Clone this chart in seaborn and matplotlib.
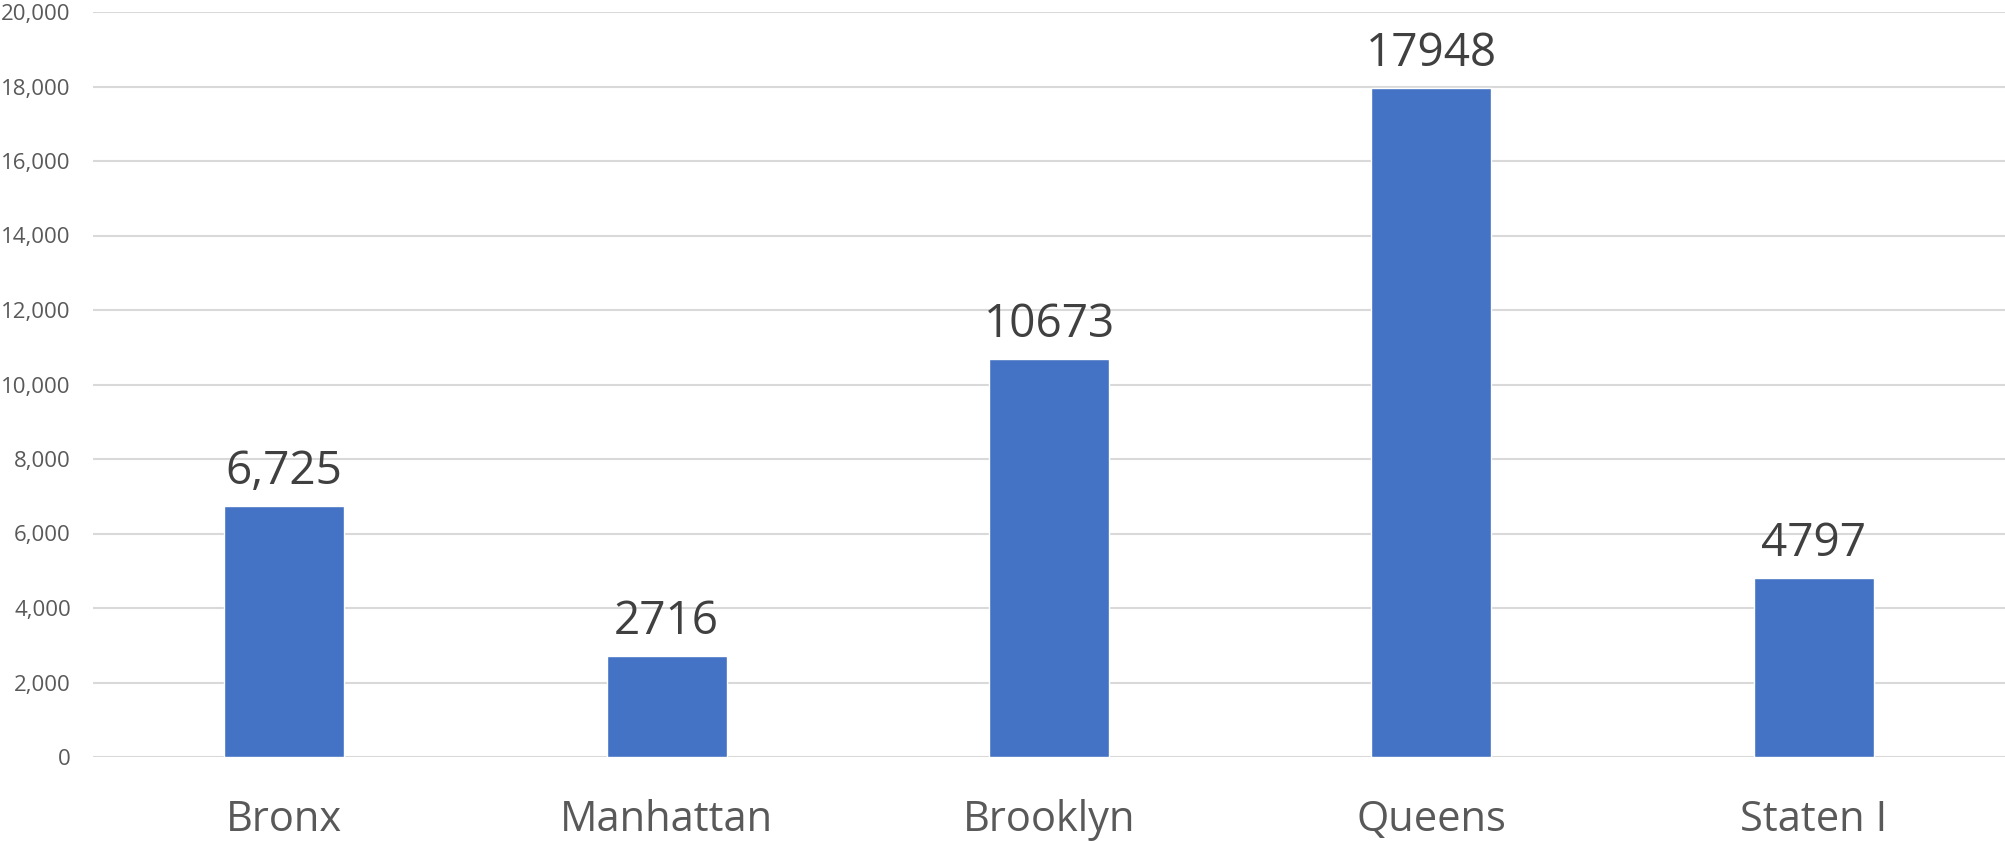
import matplotlib
matplotlib.use("Agg")
import matplotlib.pyplot as plt
import seaborn as sns
import pandas as pd
from matplotlib.ticker import FuncFormatter

# values
boroughs = ["Bronx", "Manhattan", "Brooklyn", "Queens", "Staten I"]
counts = [6725, 2716, 10673, 17948, 4797]
bar_labels = ["6,725", "2716", "10673", "17948", "4797"]

df = pd.DataFrame({"borough": boroughs, "count": counts})

sns.set_theme(style="white")
plt.rcParams["font.family"] = ["Open Sans", "DejaVu Sans"]

fig = plt.figure(figsize=(20.05, 8.41), dpi=100)
ax = fig.add_axes([93 / 2005, 84 / 841, 1 - 93 / 2005, 745 / 841])

sns.barplot(data=df, x="borough", y="count", color="#4472C4",
            width=0.314, saturation=1, ax=ax)

ax.set_ylim(0, 20000)
ax.set_xlim(-0.5, 4.5)
ax.set_yticks(range(0, 20001, 2000))
ax.yaxis.set_major_formatter(FuncFormatter(lambda v, p: f"{int(v):,}"))
ax.grid(axis="y", color="#d9d9d9", linewidth=1.5)
ax.set_axisbelow(True)
for s in ax.spines.values():
    s.set_visible(False)

ax.set_xlabel("")
ax.set_ylabel("")
ax.tick_params(axis="y", length=0, pad=16, labelsize=16, labelcolor="#595959")
ax.tick_params(axis="x", length=0, pad=30, labelsize=30, labelcolor="#595959")

ax.bar_label(ax.containers[0], labels=bar_labels, padding=8,
             fontsize=33, color="#404040")

fig.savefig("out.png", dpi=100)
